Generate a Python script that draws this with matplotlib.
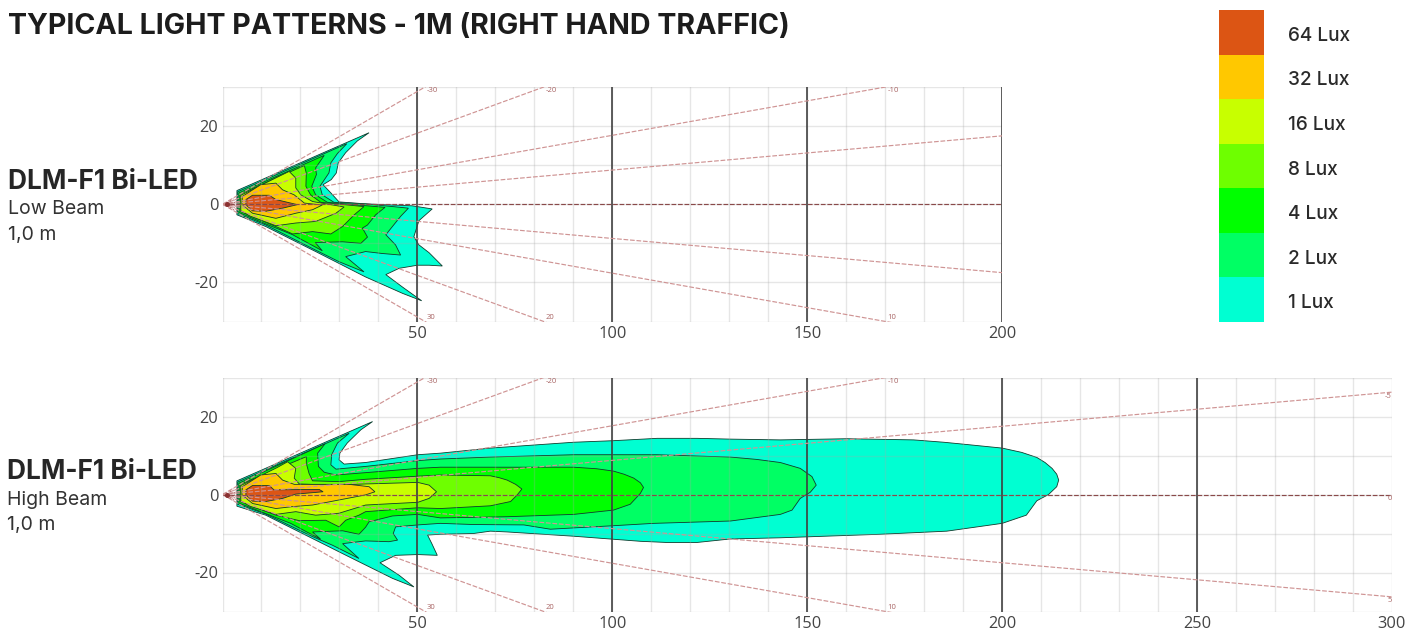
#!/usr/bin/env python3
# -*- coding: utf-8 -*-
import numpy as np
import matplotlib
matplotlib.use('Agg')
import matplotlib.pyplot as plt

W, H = 1410, 632

# contour outlines, (distance m, lateral m)
low_1lux = [(3.7, 3.5), (37.6, 18.3), (34.6, 16.2), (31.6, 13.2), (29.7, 10.6), (29.2, 8), (27.9, 6.3), (25.8, 5),
            (27.8, 2.9), (29.9, 0.6), (36.7, 0.1), (48.7, -0.4), (53.8, -1.2), (52.1, -2.7), (50.4, -4.2),
            (49.1, -8.3), (50.4, -10.4), (53, -12.4), (56.4, -15.8), (53, -15.6), (50, -15.6), (45.3, -16.4),
            (41.9, -18), (46.2, -21.2), (51.1, -24.7), (46.2, -22.8), (36.7, -18.6), (23.9, -12.1),
            (11.1, -5.7), (3.7, -2.7)]
low_2lux = [(3.9, 3.2), (31.9, 15.5), (29.5, 13), (27.8, 10.6), (27.3, 8), (25, 4.6), (25.6, 2.4), (28.6, 0.5),
            (36.7, 0.1), (47.7, -1), (45.7, -3.1), (43.6, -5.7), (41.9, -7.8), (44.4, -10.4), (45.7, -13),
            (41, -12.6), (36.7, -12.1), (31.6, -13.4), (36.3, -17.3), (29.9, -14.7), (23, -11.3), (11.1, -5.3),
            (3.9, -2.4)]
low_4lux = [(4.2, 2.9), (26.1, 12.5), (23.9, 9.3), (24.1, 7.6), (22.9, 4.6), (23.9, 2.4), (26.9, 0.5), (41.7, -0.8),
            (39.3, -2.7), (37.2, -5.3), (35.9, -6.1), (37.2, -8.4), (35.5, -10), (30.8, -9.6), (23.8, -9.8),
            (25.6, -11.9), (18, -7.8), (11, -5), (4.2, -2.1)]
low_8lux = [(4.5, 2.6), (21, 9.9), (21.5, 8), (21.4, 4.6), (22.6, 2.4), (25.2, 0.5), (36.3, -0.6), (33.8, -2.7),
            (30.8, -5.7), (27.8, -7.6), (23.1, -7), (18, -7.6), (13.7, -5.7), (4.5, -1.8)]
low_16lux = [(4.7, 2.3), (14, 6.9), (17.1, 8.4), (18.8, 6.7), (18.8, 4.2), (20.1, 2.4), (23.1, 0.7), (31.2, -0.7),
             (29.1, -2.3), (23.9, -4.4), (18.8, -4.8), (13.7, -5.5), (7, -3), (4.7, -1.6)]
low_32lux = [(5.1, 2), (9.8, 5), (13.7, 5.4), (15.4, 3.7), (18.4, 2.4), (21, 0.3), (25.6, -0.2), (23.1, -1.4),
             (18.8, -2.3), (13.7, -3.6), (7.7, -2.3), (5, -0.1)]
low_64lux = [(6, 1.2), (7.7, 2.3), (12, 2.3), (13.7, 1.2), (19.2, -0.1), (15.4, -1), (11.1, -1.8), (7.7, -1.7),
             (6, -0.1)]

high_1lux = [(3.7, 3.5), (38.5, 18.7), (35.5, 16.6), (32, 13.2), (30.1, 10.6), (29.9, 8.9), (31.2, 7.8), (36.7, 8.2),
             (50.1, 10.2), (55.9, 10.6), (68.7, 11.9), (90.1, 13.4), (100.3, 13.8), (111.5, 14.4), (121.7, 14.4),
             (130.3, 14.2), (143.1, 14), (160.2, 14.3), (177.3, 14), (185, 13.4), (190.1, 12.9), (200, 11.9),
             (205, 10.8), (208.9, 9.5), (211, 8.2), (212.8, 6.7), (214, 5.2), (214.5, 3.7), (214, 2), (211.9, 0),
             (208.9, -1.6), (206.2, -5.3), (200, -7.4), (185.8, -9.4), (168.7, -10.2), (151.6, -10.8), (143.1, -11.1),
             (130.3, -11.4), (121.7, -12.3), (114, -12.3), (107.2, -12), (90.1, -10.7), (73, -9.6), (68.7, -9.4),
             (64.4, -10), (55.9, -10.2), (52.6, -10.4), (53.7, -12.6), (55.1, -15.6), (50.1, -15.4), (44.4, -15.6),
             (40.4, -17.5), (45.3, -20.7), (49.1, -23.7), (43.6, -21.5), (32.5, -16), (23.1, -11.3), (11.1, -5.3),
             (3.7, -3)]
high_2lux = [(3.9, 3.2), (32.5, 15.7), (29.5, 13.2), (28, 10.2), (27.8, 7.6), (29.1, 6.5), (36.7, 7.2), (50.1, 8.7),
             (55.9, 9.1), (68.7, 9.6), (90.1, 10.2), (111.5, 10.2), (130.3, 9.6), (137, 9), (143.1, 8.2), (148.2, 6.7),
             (151.2, 4.6), (152.3, 2.4), (150.8, 0.6), (148.2, -1), (146.1, -4), (143.1, -5.1), (130.3, -6.8),
             (110.6, -7.4), (100.3, -8), (84.1, -8.9), (77.3, -7.8), (64.4, -7.7), (55.9, -7.4), (50.1, -7.8),
             (44.4, -8.3), (43.8, -10), (44.9, -11.7), (42.7, -12.1), (36.7, -11.9), (30.8, -12.6), (35, -16.4),
             (28.2, -13), (23.1, -10.8), (11.1, -5), (3.9, -2.5)]
high_4lux = [(4.2, 2.9), (26.3, 13), (24.4, 10.6), (24.6, 7.2), (26.1, 5.7), (29.1, 5), (36.7, 5.6), (50.1, 6.7),
             (55.9, 7), (68.7, 7), (90.1, 7), (96, 6.6), (100.3, 6), (103, 5.2), (105.5, 4.2), (107.2, 3), (108, 1.8),
             (107.2, 0.3), (104.6, -2.5), (100.3, -4), (90.1, -5.1), (73, -5.7), (55.9, -6), (50.1, -5.1), (43.6, -5.5),
             (37.6, -7), (36.7, -8.4), (35, -10.2), (30.8, -9.3), (23.1, -9.6), (25.2, -11.5), (17.5, -7.4),
             (4.2, -2.2)]
high_8lux = [(4.5, 2.6), (21.5, 9.7), (21.5, 8), (22.2, 5.4), (23.1, 3.5), (29.9, 3.3), (36.7, 3.9), (50.1, 4.7),
             (55.9, 5), (68.7, 4.8), (71, 4.3), (73, 3.7), (75.2, 2.6), (76.8, 1.4), (75.6, -0.1), (73.9, -1.8),
             (68.7, -2.9), (55.9, -3.6), (50.1, -3.4), (36.7, -4.4), (35, -5.3), (31.6, -6.6), (29.9, -8.3),
             (26.5, -6.6), (19.7, -6.7), (13.7, -5.3), (4.5, -1.8)]
high_16lux = [(4.7, 2.3), (14, 6.9), (16.7, 8.4), (18.8, 6.7), (18.4, 4.2), (19.7, 2.7), (28.2, 2.4), (36.7, 2.7),
              (50.1, 3.1), (53, 2.4), (54.9, 0.7), (53, -1), (50.1, -2), (36.7, -2.7), (29.9, -4.8), (23.9, -5.3),
              (18.8, -4.4), (13.7, -5.1), (7, -3), (4.7, -1.6)]
high_32lux = [(5.1, 2), (9.8, 5), (13.7, 5.4), (15.4, 3.7), (18.4, 2.6), (32.5, 2.6), (37.6, 2), (39.1, 0.7),
              (36.7, -0.1), (29.9, -1.4), (23.1, -2.7), (18, -3.1), (13.7, -3.6), (7.7, -2.3), (5, -0.1)]
high_64lux = [(6, 1.2), (7.7, 2.3), (12, 2.3), (13.2, 1.2), (24.8, 1.3), (25.8, 0.7), (18.8, 0.1), (15.4, -1),
              (11.1, -1.8), (7.7, -1.7), (6, -0.1)]

low_contours = [low_1lux, low_2lux, low_4lux, low_8lux, low_16lux, low_32lux, low_64lux]
high_contours = [high_1lux, high_2lux, high_4lux, high_8lux, high_16lux, high_32lux, high_64lux]

lux_labels = ['1 Lux', '2 Lux', '4 Lux', '8 Lux', '16 Lux', '32 Lux', '64 Lux']
lux_colors = ['#00FFD2', '#00FF64', '#00FF00', '#6EFF00', '#C8FF00', '#FFC800', '#DC5514']

ray_angles = [-30, -20, -10, -5, 0, 5, 10, 20, 30]
low_dark_x = [50, 100, 150, 200]
high_dark_x = [50, 100, 150, 200, 250]
y_ticks = [-20, 0, 20]


def px_axes(left, top, right, bottom):
    return fig.add_axes([left / W, 1 - bottom / H, (right - left) / W, (bottom - top) / H])


def draw_pattern(ax, contours, xmax, dark_x, tick_x):
    ax.set_xlim(0, xmax)
    ax.set_ylim(-30, 30)
    for s in ax.spines.values():
        s.set_visible(False)

    for pts, col in zip(contours, lux_colors):
        xs, ys = zip(*pts)
        ax.fill(xs, ys, facecolor=col, edgecolor='#103a2c', lw=0.6, zorder=2)

    # grid sits on top of the colours, only faintly
    for x in np.arange(0, xmax + 1, 10):
        ax.axvline(x, color='#a8a8a8', lw=1.0, alpha=0.28, zorder=3)
    for y in np.arange(-30, 31, 10):
        ax.axhline(y, color='#a8a8a8', lw=1.0, alpha=0.28, zorder=3)
    for x in dark_x:
        ax.axvline(x, color='#3a3a3a', lw=1.15, zorder=4)

    # angle rays from the lamp
    r = np.array([0, 400])
    for a in ray_angles:
        t = np.radians(a)
        col = '#8a4a4a' if a == 0 else '#cf9494'
        ax.plot(r * np.cos(t), r * np.sin(t), color=col, lw=0.85, ls=(0, (4, 1.5)), zorder=5)
        # small label where the ray leaves the plot
        if a == 0:
            ex, ey = xmax, 0
        else:
            ex = 30 / abs(np.tan(t))
            ey = 30 * np.sign(a)
            if ex > xmax:
                ex, ey = xmax, xmax * np.tan(t)
        if ex < xmax:
            ax.text(ex + 0.5, ey - np.sign(a) * 1.0, str(-a), fontsize=5.5, color='#a86464', ha='left',
                    va='center', zorder=5, clip_on=False)
        elif xmax == 300:
            ax.text(ex, ey - 1.0, str(-a), fontsize=5.5, color='#a86464', ha='right', va='center', zorder=5)
    # little fan round the lamp position
    for rad in [1.3, 2.2, 3.1]:
        th = np.radians(np.linspace(-30, 30, 12))
        ax.plot(rad * np.cos(th), rad * np.sin(th), color='#b06a6a', lw=0.7, ls=(0, (1.5, 1)), zorder=5)
    ax.plot([1.2], [0], 'o', ms=2.6, color='#8a3030', zorder=5)

    ax.set_xticks(tick_x)
    ax.set_yticks(y_ticks)
    ax.set_yticklabels(['-20', '0', '20'])
    ax.tick_params(length=0, labelsize=11.8, labelcolor='#444444', pad=3)
    ax.set_axisbelow(False)


plt.rcParams['font.family'] = ['Open Sans', 'DejaVu Sans']
fig = plt.figure(figsize=(W / 100, H / 100), dpi=100, facecolor='white')

ax_low = px_axes(222.5, 87, 1002, 321.5)
draw_pattern(ax_low, low_contours, 200, low_dark_x, [50, 100, 150, 200])
ax_high = px_axes(222.5, 377.5, 1392, 611.5)
draw_pattern(ax_high, high_contours, 300, high_dark_x, [50, 100, 150, 200, 250, 300])

# lux scale on the right
ax_leg = px_axes(1219, 10, 1264, 322)
ax_leg.bar([0] * len(lux_colors), [1] * len(lux_colors), bottom=range(len(lux_colors)), width=1, color=lux_colors)
ax_leg.set_xlim(-0.5, 0.5)
ax_leg.set_ylim(0, len(lux_colors))
ax_leg.axis('off')
for i, lab in enumerate(lux_labels):
    fig.text(1288 / W, (i + 0.5) * (312 / 7 / H) + (1 - 322 / H) - 3.5 / H, lab, family=['Inter', 'DejaVu Sans'],
             fontsize=13.7, fontweight='medium', color='#2a2a2a', va='center')

fig.text(8 / W, 1 - 27 / H, 'TYPICAL LIGHT PATTERNS - 1M (RIGHT HAND TRAFFIC)', family=['Inter', 'DejaVu Sans'],
         fontsize=20.6, fontweight='bold', color='#1c1c1c', va='center')

for x0, ys, beam in [(8, (182, 209, 235), 'Low Beam'), (7, (472, 500, 525), 'High Beam')]:
    fig.text(x0 / W, 1 - ys[0] / H, 'DLM-F1 Bi-LED', family=['Inter', 'DejaVu Sans'], fontsize=18.9, fontweight='bold',
             color='#262626', va='center')
    fig.text(x0 / W, 1 - ys[1] / H, beam, family=['Inter', 'DejaVu Sans'], fontsize=14, color='#333333', va='center')
    fig.text(x0 / W, 1 - ys[2] / H, '1,0 m', family=['Inter', 'DejaVu Sans'], fontsize=14, color='#333333', va='center')

fig.savefig('out.png', dpi=100)
